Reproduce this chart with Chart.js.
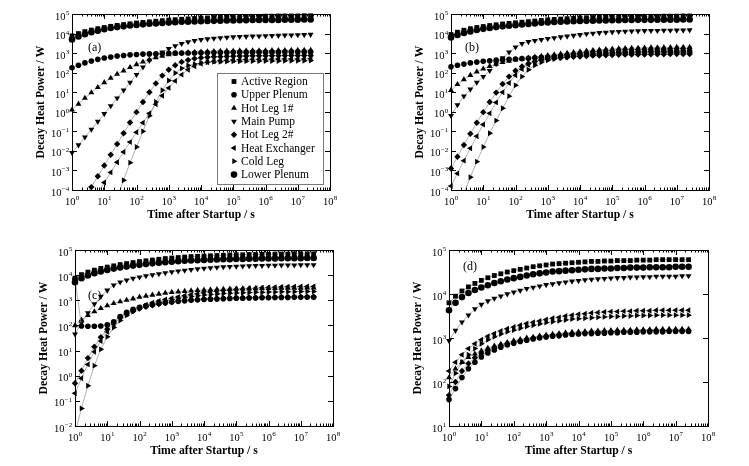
<!DOCTYPE html>
<html>
<head>
<meta charset="utf-8">
<script src="https://cdn.jsdelivr.net/npm/chart.js@4.4.0/dist/chart.umd.min.js"></script>
<style>
  body { margin: 0; background: #fff; width: 749px; height: 466px; position: relative; overflow: hidden; }
  canvas { position: absolute; }
</style>
</head>
<body>
<canvas id="pa" width="375" height="233" style="left:0;top:0"></canvas>
<canvas id="pb" width="374" height="233" style="left:375px;top:0"></canvas>
<canvas id="pc" width="375" height="233" style="left:0;top:233px"></canvas>
<canvas id="pd" width="374" height="233" style="left:375px;top:233px"></canvas>
<script>
// sampling times (s)
const times = [1, 1.585, 2.512, 3.981, 6.31, 10, 15.85, 25.12, 39.81, 63.1,
  100, 158.5, 251.2, 398.1, 631, 1e3, 1585, 2512, 3981, 6310,
  1e4, 1.585e4, 2.512e4, 3.981e4, 6.31e4, 1e5, 1.585e5, 2.512e5, 3.981e5, 6.31e5,
  1e6, 1.585e6, 2.512e6, 3.981e6, 6.31e6, 1e7, 1.585e7, 2.512e7];

const seriesNames = ['Active Region', 'Upper Plenum', 'Hot Leg 1#', 'Main Pump',
  'Hot Leg 2#', 'Heat Exchanger', 'Cold Leg', 'Lower Plenum'];

// tick exponents
const xExp = [0, 1, 2, 3, 4, 5, 6, 7, 8];
const yExpA = [-4, -3, -2, -1, 0, 1, 2, 3, 4, 5];
const yExpB = [-4, -3, -2, -1, 0, 1, 2, 3, 4, 5];
const yExpC = [-2, -1, 0, 1, 2, 3, 4, 5];
const yExpD = [1, 2, 3, 4, 5];

// ---- panel (a), W ----
const activeA = [7.6e3, 1.0e4, 1.26e4, 1.51e4, 1.78e4, 2.04e4, 2.34e4, 2.63e4, 2.88e4, 3.16e4,
  3.47e4, 3.72e4, 3.98e4, 4.27e4, 4.57e4, 4.9e4, 5.13e4, 5.37e4, 5.62e4, 5.89e4,
  6.17e4, 6.31e4, 6.61e4, 6.76e4, 6.92e4, 7.08e4, 7.24e4, 7.41e4, 7.59e4, 7.59e4,
  7.76e4, 7.76e4, 7.94e4, 7.94e4, 7.94e4, 7.94e4, 8.13e4, 8.13e4];
const upperA = [178, 240, 316, 398, 479, 562, 631, 708, 759, 813,
  851, 891, 912, 933, 955, 977, 1000, 1000, 1020, 1020,
  1050, 1050, 1070, 1070, 1070, 1100, 1100, 1100, 1120, 1120,
  1120, 1120, 1120, 1150, 1150, 1150, 1150, 1150];
const hotLeg1A = [1.26, 2.51, 5.01, 9.55, 17.8, 31.6, 52.5, 85.1, 126, 186,
  263, 355, 468, 589, 708, 832, 933, 1000, 1070, 1120,
  1170, 1200, 1230, 1260, 1290, 1290, 1320, 1320, 1350, 1350,
  1350, 1380, 1380, 1380, 1410, 1410, 1410, 1410];
const pumpA = [8.13e-3, 0.02, 0.0501, 0.126, 0.316, 0.794, 2.0, 5.01, 12.6, 31.6,
  79.4, 191, 417, 708, 1120, 1660, 2340, 3020, 3720, 4370,
  4900, 5250, 5620, 6030, 6310, 6610, 6920, 7080, 7240, 7410,
  7590, 7760, 7940, 8130, 8320, 8510, 8710, 8910];
const hotLeg2A = [3.16e-6, 1.12e-5, 3.98e-5, 1.41e-4, 5.01e-4, 1.78e-3, 6.31e-3, 0.0224, 0.0794, 0.282,
  0.955, 3.16, 10, 28.2, 70.8, 141, 240, 355, 447, 525,
  575, 617, 646, 661, 676, 692, 708, 708, 724, 724,
  741, 741, 741, 759, 759, 759, 759, 759];
const exchangerA = [5.01e-7, 1.58e-6, 5.62e-6, 2.0e-5, 7.08e-5, 2.4e-4, 7.94e-4, 2.63e-3, 8.71e-3, 0.0282,
  0.0891, 0.275, 0.832, 2.4, 6.61, 16.6, 38, 79.4, 141, 214,
  282, 339, 380, 407, 427, 447, 457, 468, 479, 479,
  490, 490, 501, 501, 501, 501, 501, 513];
const coldLegA = [null, null, null, null, null, 6.31e-7, 5.01e-6, 3.98e-5, 3.16e-4, 2.51e-3,
  0.0158, 0.1, 0.631, 3.16, 12.6, 39.8, 95.5, 166, 234, 275,
  316, 339, 355, 363, 372, 380, 380, 389, 389, 398,
  398, 398, 398, 407, 407, 407, 407, 417];
const lowerA = [5.0e3, 7.1e3, 9.3e3, 1.17e4, 1.41e4, 1.66e4, 1.91e4, 2.14e4, 2.34e4, 2.57e4,
  2.75e4, 2.95e4, 3.16e4, 3.31e4, 3.47e4, 3.63e4, 3.8e4, 3.98e4, 4.07e4, 4.17e4,
  4.27e4, 4.37e4, 4.47e4, 4.57e4, 4.68e4, 4.68e4, 4.79e4, 4.79e4, 4.9e4, 4.9e4,
  5.0e4, 5.0e4, 5.0e4, 5.13e4, 5.13e4, 5.13e4, 5.25e4, 5.25e4];

// ---- panel (b), W ----
const activeB = [8.91e3, 1.17e4, 1.48e4, 1.78e4, 2.04e4, 2.29e4, 2.57e4, 2.82e4, 3.09e4, 3.31e4,
  3.55e4, 3.8e4, 4.07e4, 4.37e4, 4.68e4, 5.01e4, 5.25e4, 5.5e4, 5.75e4, 6.03e4,
  6.31e4, 6.46e4, 6.61e4, 6.76e4, 6.92e4, 7.08e4, 7.24e4, 7.24e4, 7.41e4, 7.41e4,
  7.59e4, 7.59e4, 7.59e4, 7.76e4, 7.76e4, 7.76e4, 7.94e4, 7.94e4];
const upperB = [200, 240, 275, 316, 347, 380, 407, 437, 457, 479,
  501, 525, 550, 575, 603, 631, 661, 708, 759, 794,
  851, 891, 933, 977, 1020, 1070, 1100, 1120, 1150, 1170,
  1200, 1230, 1230, 1260, 1260, 1260, 1290, 1290];
const hotLeg1B = [12.6, 25.1, 44.7, 74.1, 112, 158, 214, 275, 339, 398,
  457, 513, 575, 631, 692, 759, 832, 912, 1000, 1100,
  1200, 1290, 1380, 1480, 1550, 1620, 1700, 1740, 1780, 1820,
  1860, 1910, 1910, 1950, 1950, 2000, 2000, 2000];
const pumpB = [0.631, 2.24, 6.31, 14.1, 31.6, 63.1, 126, 282, 562, 1120,
  2000, 3020, 3800, 4370, 4900, 5500, 6030, 6610, 7240, 7940,
  8710, 9550, 1.02e4, 1.1e4, 1.15e4, 1.2e4, 1.26e4, 1.29e4, 1.32e4, 1.35e4,
  1.38e4, 1.41e4, 1.41e4, 1.45e4, 1.45e4, 1.48e4, 1.48e4, 1.51e4];
const hotLeg2B = [1.26e-3, 5.01e-3, 0.02, 0.0759, 0.275, 0.955, 3.16, 9.55, 26.3, 63.1,
  126, 209, 295, 372, 437, 490, 537, 575, 617, 646,
  676, 708, 741, 759, 776, 794, 813, 832, 832, 851,
  851, 871, 871, 871, 891, 891, 891, 891];
const exchangerB = [1.58e-4, 7.08e-4, 3.16e-3, 0.0135, 0.0562, 0.224, 0.832, 3.02, 10, 29.5,
  74.1, 151, 251, 355, 457, 550, 646, 741, 832, 912,
  1000, 1100, 1170, 1260, 1320, 1380, 1450, 1480, 1510, 1550,
  1580, 1580, 1620, 1620, 1660, 1660, 1660, 1660];
const coldLegB = [1.58e-6, 1e-5, 7.08e-5, 4.47e-4, 2.82e-3, 0.0158, 0.0794, 0.355, 1.51, 6.31,
  22.4, 63.1, 141, 240, 339, 427, 501, 575, 631, 692,
  741, 794, 832, 871, 912, 933, 955, 977, 1000, 1000,
  1020, 1020, 1020, 1050, 1050, 1050, 1050, 1050];
const lowerB = [6.31e3, 8.51e3, 1.07e4, 1.29e4, 1.51e4, 1.74e4, 1.95e4, 2.14e4, 2.34e4, 2.51e4,
  2.69e4, 2.88e4, 3.09e4, 3.31e4, 3.55e4, 3.72e4, 3.89e4, 4.07e4, 4.17e4, 4.27e4,
  4.37e4, 4.47e4, 4.57e4, 4.68e4, 4.68e4, 4.79e4, 4.79e4, 4.9e4, 4.9e4, 5.01e4,
  5.01e4, 5.01e4, 5.13e4, 5.13e4, 5.13e4, 5.13e4, 5.25e4, 5.25e4];

// ---- panel (c), W ----
const activeC = [7.59e3, 1.05e4, 1.32e4, 1.58e4, 1.86e4, 2.09e4, 2.34e4, 2.63e4, 2.88e4, 3.16e4,
  3.47e4, 3.72e4, 3.98e4, 4.27e4, 4.57e4, 4.79e4, 5.01e4, 5.25e4, 5.5e4, 5.62e4,
  5.75e4, 5.89e4, 6.03e4, 6.17e4, 6.31e4, 6.46e4, 6.46e4, 6.61e4, 6.61e4, 6.76e4,
  6.76e4, 6.92e4, 6.92e4, 6.92e4, 7.08e4, 7.08e4, 7.08e4, 7.08e4];
const upperC = [7.08e3, 95.5, 93.3, 93.3, 95.5, 105, 141, 224, 331, 437,
  525, 603, 676, 741, 794, 851, 912, 955, 1000, 1050,
  1070, 1100, 1120, 1150, 1170, 1200, 1200, 1230, 1230, 1260,
  1260, 1290, 1290, 1290, 1320, 1320, 1320, 1320];
const hotLeg1C = [100, 166, 251, 355, 479, 617, 759, 891, 1020, 1150,
  1350, 1480, 1620, 1780, 1950, 2090, 2190, 2290, 2400, 2510,
  2570, 2630, 2690, 2750, 2820, 2880, 2880, 2950, 2950, 3020,
  3020, 3020, 3090, 3090, 3090, 3090, 3160, 3160];
const pumpC = [44.7, 126, 316, 708, 1410, 2510, 3980, 5250, 6310, 7410,
  8320, 9330, 1.02e4, 1.12e4, 1.23e4, 1.35e4, 1.45e4, 1.55e4, 1.66e4, 1.78e4,
  1.86e4, 1.95e4, 2.04e4, 2.14e4, 2.19e4, 2.24e4, 2.29e4, 2.34e4, 2.4e4, 2.4e4,
  2.45e4, 2.45e4, 2.51e4, 2.51e4, 2.51e4, 2.57e4, 2.57e4, 2.57e4];
const hotLeg2C = [0.501, 1.58, 5.01, 14.1, 33.9, 70.8, 126, 200, 282, 372,
  468, 550, 631, 708, 776, 851, 912, 977, 1020, 1070,
  1120, 1150, 1170, 1200, 1230, 1260, 1260, 1290, 1290, 1320,
  1320, 1320, 1350, 1350, 1350, 1350, 1380, 1380];
const exchangerC = [0.2, 0.794, 2.82, 8.91, 24, 56.2, 112, 191, 288, 398,
  525, 661, 794, 933, 1070, 1200, 1350, 1510, 1660, 1820,
  2000, 2140, 2290, 2450, 2570, 2690, 2820, 2950, 3020, 3160,
  3240, 3310, 3390, 3470, 3470, 3550, 3550, 3550];
const coldLegC = [5.01e-3, 0.0501, 0.398, 2.51, 11.2, 35.5, 83.2, 158, 251, 355,
  468, 589, 708, 832, 955, 1070, 1200, 1320, 1410, 1510,
  1620, 1700, 1780, 1860, 1910, 1950, 2000, 2040, 2090, 2090,
  2140, 2140, 2190, 2190, 2190, 2240, 2240, 2240];
const lowerC = [5.25e3, 7.59e3, 9.77e3, 1.2e4, 1.41e4, 1.62e4, 1.82e4, 2.0e4, 2.19e4, 2.4e4,
  2.57e4, 2.75e4, 2.95e4, 3.09e4, 3.24e4, 3.39e4, 3.55e4, 3.72e4, 3.8e4, 3.89e4,
  3.98e4, 4.07e4, 4.17e4, 4.27e4, 4.27e4, 4.37e4, 4.37e4, 4.47e4, 4.47e4, 4.57e4,
  4.57e4, 4.57e4, 4.68e4, 4.68e4, 4.68e4, 4.68e4, 4.79e4, 4.79e4];

// ---- panel (d), W ----
const activeD = [6.31e3, 8.91e3, 1.17e4, 1.45e4, 1.74e4, 2.04e4, 2.34e4, 2.63e4, 2.88e4, 3.16e4,
  3.39e4, 3.63e4, 3.89e4, 4.17e4, 4.37e4, 4.57e4, 4.79e4, 4.9e4, 5.01e4, 5.13e4,
  5.25e4, 5.37e4, 5.5e4, 5.5e4, 5.62e4, 5.62e4, 5.75e4, 5.75e4, 5.75e4, 5.89e4,
  5.89e4, 5.89e4, 6.03e4, 6.03e4, 6.03e4, 6.03e4, 6.03e4, 6.03e4];
const upperD = [39.8, 70.8, 126, 200, 282, 372, 457, 537, 617, 692,
  759, 832, 891, 955, 1000, 1050, 1100, 1120, 1170, 1200,
  1230, 1260, 1260, 1290, 1290, 1320, 1320, 1350, 1350, 1350,
  1380, 1380, 1380, 1380, 1410, 1410, 1410, 1410];
const hotLeg1D = [126, 200, 282, 363, 437, 513, 589, 661, 724, 794,
  871, 933, 1000, 1050, 1120, 1170, 1230, 1260, 1320, 1350,
  1380, 1410, 1450, 1450, 1480, 1480, 1510, 1510, 1510, 1550,
  1550, 1550, 1580, 1580, 1580, 1580, 1580, 1580];
const pumpD = [871, 1480, 2290, 3310, 4570, 5750, 6920, 7940, 8910, 1e4,
  1.1e4, 1.2e4, 1.32e4, 1.41e4, 1.51e4, 1.62e4, 1.7e4, 1.78e4, 1.86e4, 1.95e4,
  2.0e4, 2.09e4, 2.14e4, 2.19e4, 2.24e4, 2.29e4, 2.34e4, 2.34e4, 2.4e4, 2.4e4,
  2.45e4, 2.45e4, 2.51e4, 2.51e4, 2.51e4, 2.51e4, 2.57e4, 2.57e4];
const hotLeg2D = [50.1, 100, 178, 263, 355, 447, 525, 603, 676, 741,
  813, 871, 933, 1000, 1050, 1100, 1150, 1200, 1230, 1260,
  1290, 1320, 1350, 1350, 1380, 1380, 1410, 1410, 1450, 1450,
  1450, 1480, 1480, 1480, 1480, 1510, 1510, 1510];
const exchangerD = [178, 282, 417, 575, 741, 912, 1100, 1260, 1450, 1620,
  1780, 1950, 2140, 2290, 2450, 2630, 2820, 2950, 3160, 3310,
  3470, 3550, 3720, 3800, 3890, 3980, 3980, 4070, 4070, 4170,
  4170, 4170, 4270, 4270, 4270, 4270, 4270, 4270];
const coldLegD = [79.4, 158, 282, 417, 575, 741, 912, 1070, 1230, 1380,
  1510, 1660, 1820, 1950, 2090, 2240, 2340, 2450, 2570, 2690,
  2750, 2820, 2880, 2950, 3020, 3090, 3090, 3160, 3160, 3240,
  3240, 3240, 3310, 3310, 3310, 3310, 3310, 3310];
const lowerD = [4.27e3, 6.31e3, 8.51e3, 1.05e4, 1.23e4, 1.41e4, 1.58e4, 1.78e4, 1.95e4, 2.14e4,
  2.29e4, 2.45e4, 2.63e4, 2.82e4, 2.95e4, 3.09e4, 3.24e4, 3.31e4, 3.39e4, 3.47e4,
  3.55e4, 3.63e4, 3.72e4, 3.72e4, 3.8e4, 3.8e4, 3.89e4, 3.89e4, 3.98e4, 3.98e4,
  3.98e4, 4.07e4, 4.07e4, 4.07e4, 4.07e4, 4.17e4, 4.17e4, 4.17e4];

// marker per series, same order as seriesNames
const markers = [
  { style: 'rect', rotation: 0, radius: 3.4 },
  { style: 'circle', rotation: 0, radius: 2.8 },
  { style: 'triangle', rotation: 0, radius: 3.4 },
  { style: 'triangle', rotation: 180, radius: 3.4 },
  { style: 'rectRot', rotation: 0, radius: 3.2 },
  { style: 'triangle', rotation: 270, radius: 3.4 },
  { style: 'triangle', rotation: 90, radius: 3.4 },
  { style: 'circle', rotation: 0, radius: 3.3 },
];

const serif = '"Liberation Serif", "Times New Roman", serif';

function drawPower(ctx, exp, x, y, align) {
  const base = '10';
  const sup = String(exp).replace('-', '\u2212');
  ctx.font = '10.5px ' + serif;
  const wb = ctx.measureText(base).width;
  ctx.font = '7px ' + serif;
  const ws = ctx.measureText(sup).width;
  const x0 = align === 'right' ? x - wb - ws : x - (wb + ws) / 2;
  ctx.textAlign = 'left';
  ctx.textBaseline = 'alphabetic';
  ctx.font = '10.5px ' + serif;
  ctx.fillText(base, x0, y);
  ctx.font = '7px ' + serif;
  ctx.fillText(sup, x0 + wb + 0.3, y - 4.5);
}

// frame, inward ticks, tick labels, titles and legend
const framePlugin = {
  id: 'frame',
  afterDraw(chart, args, o) {
    const { ctx, chartArea: a } = chart;
    const xs = chart.scales.x, ys = chart.scales.y;
    ctx.save();
    ctx.strokeStyle = '#000';
    ctx.lineWidth = 1;
    ctx.strokeRect(Math.round(a.left) + 0.5, Math.round(a.top) + 0.5,
      Math.round(a.right - a.left), Math.round(a.bottom - a.top));

    ctx.beginPath();
    o.xExp.forEach((k, i) => {
      const px = Math.round(xs.getPixelForValue(Math.pow(10, k))) + 0.5;
      ctx.moveTo(px, a.bottom); ctx.lineTo(px, a.bottom - 5);
      ctx.moveTo(px, a.top); ctx.lineTo(px, a.top + 5);
      if (i < o.xExp.length - 1) {
        for (let m = 2; m < 10; m++) {
          const q = Math.round(xs.getPixelForValue(m * Math.pow(10, k))) + 0.5;
          ctx.moveTo(q, a.bottom); ctx.lineTo(q, a.bottom - 2.5);
          ctx.moveTo(q, a.top); ctx.lineTo(q, a.top + 2.5);
        }
      }
    });
    o.yExp.forEach(k => {
      const py = Math.round(ys.getPixelForValue(Math.pow(10, k))) + 0.5;
      ctx.moveTo(a.left, py); ctx.lineTo(a.left + 5, py);
      ctx.moveTo(a.right, py); ctx.lineTo(a.right - 5, py);
    });
    ctx.stroke();

    ctx.fillStyle = '#000';
    o.xExp.forEach(k => drawPower(ctx, k, xs.getPixelForValue(Math.pow(10, k)), a.bottom + 14.5, 'center'));
    o.yExp.forEach(k => drawPower(ctx, k, a.left - 3, ys.getPixelForValue(Math.pow(10, k)) + 5.5, 'right'));

    ctx.font = 'bold 11.7px ' + serif;
    ctx.textAlign = 'center';
    ctx.textBaseline = 'alphabetic';
    ctx.fillText('Time after Startup / s', (a.left + a.right) / 2, a.bottom + 27.5);
    ctx.save();
    ctx.translate(a.left - 31, (a.top + a.bottom) / 2);
    ctx.rotate(-Math.PI / 2);
    ctx.textBaseline = 'middle';
    ctx.fillText('Decay Heat Power / W', 0, 0);
    ctx.restore();

    ctx.font = '12px ' + serif;
    ctx.textAlign = 'left';
    ctx.fillText(o.tag, a.left + o.tagPos[0], a.top + o.tagPos[1]);

    if (o.legend) {
      const L = o.legend;
      ctx.fillStyle = '#fff';
      ctx.fillRect(L.left, L.top, L.width, L.height);
      ctx.strokeStyle = '#7a7a7a';
      ctx.strokeRect(L.left + 0.5, L.top + 0.5, L.width, L.height);
      const drawPoint = Chart.helpers && Chart.helpers.drawPoint;
      chart.data.datasets.forEach((ds, i) => {
        const yy = L.top + L.first + i * L.step;
        ctx.fillStyle = '#000';
        if (drawPoint) {
          drawPoint(ctx, { pointStyle: ds.pointStyle, rotation: ds.rotation, radius: ds.pointRadius, borderWidth: 0 }, L.markX, yy);
        }
        ctx.fillStyle = '#000';
        ctx.font = '11.5px ' + serif;
        ctx.textAlign = 'left';
        ctx.textBaseline = 'middle';
        ctx.fillText(ds.label, L.textX, yy + 0.5);
      });
    }
    ctx.restore();
  }
};

function makeDatasets(list) {
  return list.map((values, i) => ({
    label: seriesNames[i],
    data: values,
    borderColor: '#8f8f8f',
    borderWidth: 0.7,
    pointStyle: markers[i].style,
    rotation: markers[i].rotation,
    pointRadius: markers[i].radius,
    pointBackgroundColor: '#000',
    pointBorderColor: '#000',
    pointBorderWidth: 0,
    tension: 0,
    spanGaps: false,
    clip: { left: 4, right: 4, top: 4, bottom: 0 }
  }));
}

function makePanel(id, series, yMin, yMax, yExp, pad, tag, tagPos, legend) {
  return new Chart(document.getElementById(id), {
    type: 'line',
    data: { labels: times, datasets: makeDatasets(series) },
    options: {
      responsive: false,
      animation: false,
      events: [],
      layout: { padding: pad },
      scales: {
        x: { type: 'logarithmic', min: 1, max: 1e8, display: false },
        y: { type: 'logarithmic', min: yMin, max: yMax, display: false }
      },
      plugins: {
        legend: { display: false },
        tooltip: { enabled: false },
        frame: { xExp: xExp, yExp: yExp, tag: tag, tagPos: tagPos, legend: legend }
      }
    },
    plugins: [framePlugin]
  });
}

makePanel('pa', [activeA, upperA, hotLeg1A, pumpA, hotLeg2A, exchangerA, coldLegA, lowerA],
  1e-4, 1e5, yExpA, { left: 72, right: 45, top: 14, bottom: 43 }, '(a)', [16, 37],
  { left: 217, top: 73, width: 106, height: 111, first: 8.5, step: 13.3, markX: 234, textX: 241 });
makePanel('pb', [activeB, upperB, hotLeg1B, pumpB, hotLeg2B, exchangerB, coldLegB, lowerB],
  1e-4, 1e5, yExpB, { left: 76, right: 40, top: 14, bottom: 43 }, '(b)', [14, 37], null);
makePanel('pc', [activeC, upperC, hotLeg1C, pumpC, hotLeg2C, exchangerC, coldLegC, lowerC],
  1e-2, 1e5, yExpC, { left: 75, right: 42, top: 17, bottom: 40 }, '(c)', [13, 49], null);
makePanel('pd', [activeD, upperD, hotLeg1D, pumpD, hotLeg2D, exchangerD, coldLegD, lowerD],
  10, 1e5, yExpD, { left: 74, right: 41, top: 17, bottom: 40 }, '(d)', [14, 20], null);
</script>
</body>
</html>
